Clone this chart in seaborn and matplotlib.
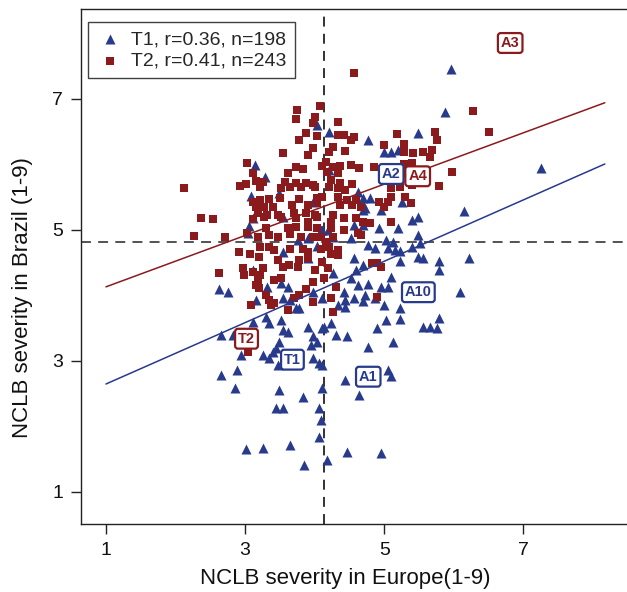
import numpy as np
import pandas as pd
import matplotlib
matplotlib.use("Agg")
import matplotlib.pyplot as plt
import seaborn as sns

# ---- data ----
t1_europe = [4.04, 3.14, 3.28, 3.08, 3.48, 3.97, 3.12, 3.05, 3.55, 4.11, 3.76, 3.90, 4.03, 3.04,
             5.88, 4.20, 4.76, 5.49, 4.99, 5.09, 5.20, 4.20, 4.62, 4.70, 4.80, 4.95, 5.26, 4.73,
             4.69, 5.40, 5.49, 4.56, 4.70, 4.92, 5.20, 5.49, 4.09, 4.19, 4.27, 4.52, 4.76, 5.02,
             5.12, 5.52, 2.62, 2.75, 3.32, 3.61, 3.51, 3.91, 3.55, 3.11, 3.15, 3.55, 3.65, 3.73,
             3.77, 3.98, 4.11, 3.11, 3.30, 3.34, 3.51, 3.54, 3.61, 2.65, 2.82, 3.90, 4.13, 3.48,
             3.44, 3.40, 3.94, 3.98, 4.04, 2.94, 3.25, 3.34, 3.97, 4.06, 3.47, 2.65, 2.89, 2.85,
             3.48, 3.83, 4.11, 3.44, 3.55, 4.06, 4.87, 5.05, 5.16, 5.23, 5.40, 4.56, 5.49, 5.56,
             5.79, 4.59, 4.70, 5.23, 5.78, 4.26, 4.52, 5.09, 4.62, 4.77, 4.95, 5.05, 4.42, 4.56,
             4.73, 4.87, 4.70, 4.44, 4.33, 4.99, 5.22, 6.09, 4.44, 4.23, 4.11, 5.02, 5.23, 4.90,
             5.55, 5.66, 5.76, 5.78, 4.30, 4.47, 4.76, 5.12, 4.11, 4.44, 5.05, 5.09, 4.64, 5.96,
             7.26, 6.14, 6.22, 3.01, 3.25, 3.64, 3.84, 4.17, 4.46, 4.96, 4.09, 4.06]
t1_brazil = [6.60, 5.99, 5.81, 5.52, 5.57, 5.43, 5.18, 5.06, 5.20, 5.00, 4.85, 4.88, 4.76, 4.95,
             6.80, 6.50, 6.37, 6.48, 6.19, 6.19, 6.22, 5.92, 5.58, 5.49, 5.49, 5.31, 5.43, 5.34,
             5.31, 5.15, 5.20, 5.08, 5.08, 5.03, 5.03, 4.92, 5.00, 5.00, 4.89, 4.88, 4.77, 4.85,
             4.82, 4.80, 4.10, 4.05, 4.13, 4.13, 4.19, 4.57, 4.66, 4.39, 3.93, 3.96, 3.93, 3.81,
             3.81, 4.05, 3.96, 3.60, 3.67, 3.58, 3.63, 3.47, 3.44, 3.40, 3.40, 3.52, 3.52, 3.29,
             3.20, 3.14, 3.24, 3.38, 3.29, 3.09, 3.09, 3.05, 3.05, 2.97, 2.94, 2.79, 2.86, 2.59,
             2.56, 2.45, 2.59, 2.28, 2.28, 2.28, 4.73, 4.73, 4.70, 4.68, 4.74, 4.57, 4.59, 4.57,
             4.53, 4.39, 4.47, 4.53, 4.39, 4.34, 4.27, 4.28, 4.16, 4.18, 4.13, 4.13, 4.05, 3.96,
             4.01, 3.96, 3.92, 3.93, 3.86, 3.86, 3.81, 4.05, 3.82, 3.58, 3.50, 3.63, 3.64, 3.50,
             3.52, 3.52, 3.50, 3.66, 3.40, 3.38, 3.21, 3.29, 2.94, 2.71, 2.86, 2.77, 2.48, 7.46,
             5.95, 5.29, 4.57, 1.66, 1.67, 1.72, 1.41, 1.49, 1.61, 1.60, 2.10, 1.84]

t2_europe = [3.74, 4.07, 3.73, 4.01, 3.98, 3.87, 4.04, 3.78, 3.97, 3.90, 3.54, 3.02, 4.10, 3.73,
             3.83, 3.61, 3.11, 3.15, 3.25, 3.01, 2.92, 3.22, 2.12, 3.58, 3.73, 3.87, 3.98, 3.51,
             3.65, 3.80, 4.01, 3.11, 3.21, 3.34, 3.50, 3.77, 4.04, 4.11, 3.15, 3.27, 3.40, 3.68,
             3.90, 4.04, 3.18, 3.32, 3.47, 3.70, 3.87, 4.01, 2.36, 2.54, 3.12, 3.27, 3.51, 3.73,
             3.90, 4.04, 3.30, 3.61, 3.73, 3.90, 4.04, 2.26, 2.71, 3.02, 3.18, 3.34, 3.47, 3.65,
             3.80, 3.97, 4.09, 3.22, 3.34, 3.65, 3.83, 4.09, 4.33, 4.33, 4.42, 4.56, 4.52, 5.18,
             5.73, 5.76, 4.27, 4.20, 4.44, 4.99, 5.28, 5.28, 5.42, 5.55, 5.69, 5.66, 4.16, 4.27,
             4.37, 4.52, 4.63, 4.85, 4.17, 4.33, 5.28, 5.40, 5.30, 5.42, 5.98, 4.23, 4.37, 4.54,
             4.20, 4.33, 4.44, 5.09, 5.23, 5.40, 5.78, 4.34, 4.47, 4.59, 4.92, 5.09, 5.30, 4.37,
             4.54, 4.66, 4.99, 5.06, 5.38, 4.27, 4.42, 4.59, 4.23, 4.70, 4.80, 5.09, 4.23, 4.42,
             4.62, 4.66, 4.16, 4.26, 2.91, 3.07, 3.41, 3.20, 3.47, 3.91, 3.77, 3.90, 2.62, 2.97,
             2.98, 3.11, 3.25, 3.22, 3.55, 3.63, 3.76, 4.01, 3.41, 3.51, 3.18, 3.20, 3.15, 3.98,
             3.87, 3.30, 3.34, 3.41, 3.37, 3.70, 3.77, 3.97, 3.09, 3.61, 3.04, 4.20, 4.23, 4.33,
             4.34, 4.11, 4.19, 4.13, 4.83, 4.90, 4.95, 4.31, 4.24, 4.90, 4.26, 4.56, 6.27, 6.51]
t2_brazil = [6.83, 6.89, 6.69, 6.73, 6.63, 6.48, 6.44, 6.37, 6.25, 6.15, 6.18, 6.02, 5.98, 5.96,
             5.93, 5.87, 5.87, 5.75, 5.73, 5.70, 5.67, 5.66, 5.64, 5.73, 5.72, 5.72, 5.69, 5.64,
             5.66, 5.66, 5.66, 5.43, 5.46, 5.47, 5.49, 5.47, 5.49, 5.50, 5.35, 5.35, 5.35, 5.38,
             5.38, 5.41, 5.26, 5.23, 5.23, 5.26, 5.26, 5.23, 5.18, 5.17, 5.17, 5.20, 5.20, 5.18,
             5.12, 5.20, 5.03, 5.03, 5.05, 5.05, 5.03, 4.91, 4.89, 4.95, 4.89, 4.92, 4.89, 4.94,
             4.89, 4.89, 4.89, 4.74, 4.74, 4.71, 4.71, 4.71, 6.65, 6.45, 6.45, 6.42, 6.37, 6.47,
             6.50, 6.37, 6.27, 6.19, 6.21, 6.30, 6.31, 6.19, 6.18, 6.19, 6.22, 6.11, 6.04, 5.96,
             5.98, 5.99, 5.95, 5.96, 5.89, 5.87, 6.01, 6.02, 5.89, 5.92, 5.89, 5.76, 5.72, 5.70,
             5.66, 5.64, 5.61, 5.64, 5.66, 5.69, 5.67, 5.50, 5.46, 5.46, 5.43, 5.50, 5.50, 5.38,
             5.38, 5.35, 5.35, 5.43, 5.41, 5.23, 5.18, 5.18, 5.12, 5.12, 5.11, 5.12, 5.03, 5.00,
             4.95, 4.92, 4.82, 4.89, 4.66, 4.63, 4.69, 4.59, 4.54, 4.66, 4.54, 4.57, 4.34, 4.42,
             4.31, 4.36, 4.42, 4.31, 4.44, 4.47, 4.44, 4.39, 4.24, 4.27, 4.24, 4.12, 4.16, 4.21,
             4.10, 4.01, 3.93, 3.89, 3.86, 3.96, 4.01, 3.90, 3.86, 3.78, 3.14, 4.74, 4.63, 4.62,
             4.70, 4.51, 4.42, 4.27, 4.50, 4.50, 4.44, 4.13, 3.96, 3.98, 3.75, 7.40, 6.82, 6.50]

series_labels = ["T1, r=0.36, n=198", "T2, r=0.41, n=243"]
fit_intercepts = [2.18, 3.74]
fit_slopes = [0.4685, 0.392]
fit_x_range = [1.0, 8.17]
mean_europe = 4.13
mean_brazil = 4.82

tag_names = ["A3", "A2", "A4", "A10", "T2", "T1", "A1"]
tag_series = [1, 0, 1, 0, 1, 0, 0]
tag_x = [6.81, 5.10, 5.48, 5.49, 3.02, 3.68, 4.77]
tag_y = [7.855, 5.855, 5.82, 4.05, 3.34, 3.02, 2.76]

tick_values = [1, 3, 5, 7]

# ---- style ----
sns.set_theme(style="white")
plt.rcParams["font.family"] = ["Liberation Sans", "DejaVu Sans"]
colors = ["#283a8c", "#8b1a1d"]
markers = ["^", "s"]
msizes = [52, 36]

fig = plt.figure(figsize=(6.27, 5.92), dpi=100)
ax = fig.add_axes([81 / 627, 68 / 592, 546 / 627, 515 / 592])

frames = [
    pd.DataFrame({"europe": t1_europe, "brazil": t1_brazil, "series": series_labels[0]}),
    pd.DataFrame({"europe": t2_europe, "brazil": t2_brazil, "series": series_labels[1]}),
]
for i, d in enumerate(frames):
    sns.scatterplot(data=d, x="europe", y="brazil", color=colors[i], marker=markers[i],
                    s=msizes[i], linewidth=0, ax=ax, label=series_labels[i], zorder=2)

for i in range(2):
    xs = np.array(fit_x_range)
    sns.lineplot(x=xs, y=fit_intercepts[i] + fit_slopes[i] * xs, color=colors[i],
                 lw=1.1, ax=ax, zorder=3, legend=False)

ax.axvline(mean_europe, color="#222222", lw=1.3, ls=(0, (5.5, 4)), zorder=1)
ax.axhline(mean_brazil, color="#444444", lw=1.3, ls=(0, (5.5, 4)), zorder=1)

for name, si, x, y in zip(tag_names, tag_series, tag_x, tag_y):
    c = colors[si]
    ax.text(x, y, name, color=c, fontsize=10.5, fontweight="bold", ha="center", va="center",
            zorder=5,
            bbox=dict(boxstyle="round,pad=0.2,rounding_size=0.2", fc="white", ec=c, lw=1.6))

ax.set_xlim(0.641, 8.489)
ax.set_ylim(0.511, 8.374)
ax.set_xticks(tick_values)
ax.set_yticks(tick_values)
ax.tick_params(axis="both", direction="out", length=7, width=1, pad=6,
               labelsize=14, color="#222222", labelcolor="#111111",
               bottom=True, left=True)
for side in ["left", "bottom", "top"]:
    ax.spines[side].set_visible(True)
    ax.spines[side].set_color("#222222")
    ax.spines[side].set_linewidth(1.0)
ax.spines["right"].set_visible(False)

ax.set_xlabel("NCLB severity in Europe(1-9)", fontsize=16, color="#111111")
ax.set_ylabel("NCLB severity in Brazil (1-9)", fontsize=16, color="#111111")
ax.xaxis.set_label_coords(0.4844, -0.086)
ax.yaxis.set_label_coords(-0.088, 0.439)

leg = ax.legend(loc="upper left", bbox_to_anchor=(0.013, 0.975), frameon=True, fancybox=False,
                edgecolor="#111111", fontsize=14, handletextpad=0.35, borderpad=0.45,
                labelspacing=0.2, handlelength=1.4, borderaxespad=0)
leg.get_frame().set_linewidth(1.0)

fig.savefig("out.png", dpi=100)
